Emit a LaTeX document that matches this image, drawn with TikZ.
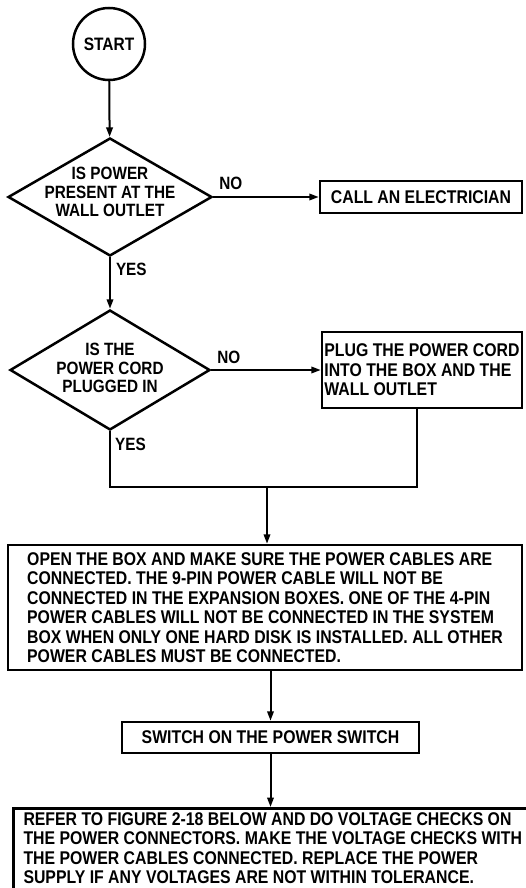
\documentclass[tikz,border=0pt]{standalone}
\usepackage{fontspec}
\setmainfont{Liberation Sans}[FakeStretch=0.86]
\usetikzlibrary{shapes.geometric,arrows.meta}
\begin{document}
\begin{tikzpicture}[x=1pt,y=-1pt,
  every node/.style={font=\bfseries\fontsize{18.4}{19.5}\selectfont},
  shp/.style={draw, line width=2.5pt, inner sep=2pt},
  boxn/.style={shp, rectangle, align=left},
  dia/.style={shp, diamond, inner sep=0pt},
  diatxt/.style={align=center, font=\bfseries\fontsize{17.8}{18.5}\selectfont},
  ln/.style={line width=2pt},
  arr/.style={ln, -{Triangle[length=9.5pt,width=6.5pt]}},
  lbl/.style={inner sep=0pt, anchor=base west, font=\bfseries\fontsize{17.8}{18}\selectfont}]
\useasboundingbox (0,0) rectangle (525,888);

\node[shp, circle, minimum size=72pt, font=\bfseries\fontsize{18}{18}\selectfont] (start) at (109,44) {START};

\node[dia, minimum width=204pt, minimum height=118pt,
  label={[diatxt, yshift=5pt]center:{IS POWER\\PRESENT AT THE\\WALL OUTLET}}] (d1) at (110,197) {};

\node[boxn, minimum width=202pt, minimum height=32pt] (box1) at (421,197) {CALL AN ELECTRICIAN};

\node[dia, minimum width=200pt, minimum height=120pt,
  label={[diatxt, yshift=2pt]center:{IS THE\\POWER CORD\\PLUGGED IN}}] (d2) at (110,370) {};

\node[boxn, minimum width=200pt, minimum height=76pt] (box2) at (422,370)
  {PLUG THE POWER CORD\\INTO THE BOX AND THE\\WALL OUTLET};

\node[boxn, minimum width=514pt, minimum height=125pt] (box3) at (265,607.5)
  {OPEN THE BOX AND MAKE SURE THE POWER CABLES ARE\\
   CONNECTED. THE 9-PIN POWER CABLE WILL NOT BE\\
   CONNECTED IN THE EXPANSION BOXES. ONE OF THE 4-PIN\\
   POWER CABLES WILL NOT BE CONNECTED IN THE SYSTEM\\
   BOX WHEN ONLY ONE HARD DISK IS INSTALLED. ALL OTHER\\
   POWER CABLES MUST BE CONNECTED.};

\node[boxn, minimum width=297pt, minimum height=31pt] (box4) at (270.5,737.5) {SWITCH ON THE POWER SWITCH};

\node[boxn, minimum width=519pt, anchor=north west, inner ysep=4pt, text depth=90pt] (box5) at (12,807)
  {REFER TO FIGURE 2-18 BELOW AND DO VOLTAGE CHECKS ON\\
   THE POWER CONNECTORS. MAKE THE VOLTAGE CHECKS WITH\\
   THE POWER CABLES CONNECTED. REPLACE THE POWER\\
   SUPPLY IF ANY VOLTAGES ARE NOT WITHIN TOLERANCE.};

\coordinate (m) at (267,487);
\coordinate (r) at (417,487);

\draw[arr] (start) -- (d1);
\draw[arr] (d1.east) -- (box1.west) node[lbl, at start, xshift=5pt, yshift=7.5pt] {NO};
\draw[arr] (d1.south) -- (d2.north) node[lbl, at start, xshift=5pt, yshift=-18.5pt] {YES};
\draw[arr] (d2.east) -- (box2.west) node[lbl, at start, xshift=5pt, yshift=7pt] {NO};
\draw[ln] (d2.south) |- (r) -- (r |- box2.south);
\path (d2.south) node[lbl, xshift=5pt, yshift=-19.5pt] {YES};
\draw[arr] (m) -- (m |- box3.north);
\draw[arr] (box3.south -| box4.north) -- (box4.north);
\draw[arr] (box4.south) -- (box4.south |- box5.north);
\end{tikzpicture}
\end{document}
